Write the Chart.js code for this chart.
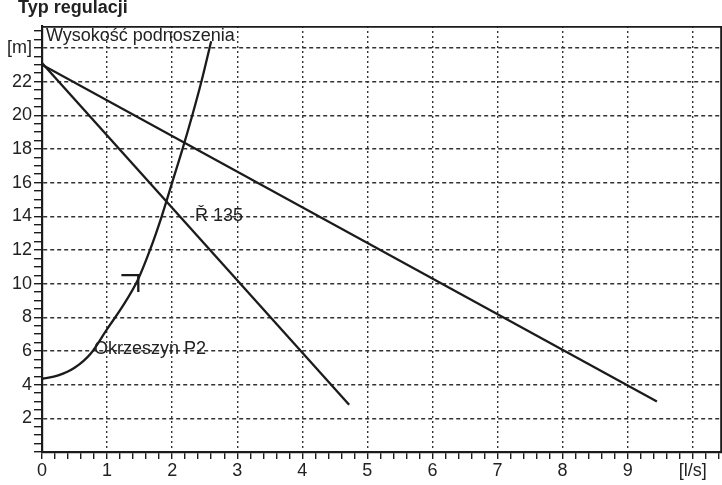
<!DOCTYPE html>
<html>
<head>
<meta charset="utf-8">
<script src="https://cdn.jsdelivr.net/npm/chart.js@4.4.1/dist/chart.umd.min.js"></script>
<style>
    html, body { margin: 0; padding: 0; background: #fff; }
    #wrap { width: 722px; height: 485px; }
</style>
</head>
<body>
<div id="wrap"><canvas id="chart"></canvas></div>
<script>
"use strict";

// Pump curves (straight lines) and system curve
const longLineFlow = [0, 9.45];
const longLineHead = [23.0, 3.0];
const shortLineFlow = [0, 4.72];
const shortLineHead = [23.1, 2.8];
const systemFlow = [0, 0.25, 0.5, 0.75, 1.0, 1.23, 1.47, 1.66, 1.84, 2.0, 2.16, 2.31, 2.45, 2.6];
const systemHead = [4.35, 4.55, 5.0, 5.85, 7.3, 8.6, 10.2, 12, 14, 16, 18, 20, 22, 24.4];
// operating point mark
const markFlow = [1.22, 1.48, 1.48];
const markHead = [10.5, 10.5, 9.5];

// Tick labels
const xTickValues = [0, 1, 2, 3, 4, 5, 6, 7, 8, 9, 10];
const xTickLabels = ['0', '1', '2', '3', '4', '5', '6', '7', '8', '9', '[l/s]'];
const yTickValues = [2, 4, 6, 8, 10, 12, 14, 16, 18, 20, 22, 24];
const yTickLabels = ['2', '4', '6', '8', '10', '12', '14', '16', '18', '20', '22', '[m]'];

const FONT = '"Liberation Sans", Arial, sans-serif';
const INK = '#1b1b1b';

const toPoints = (xs, ys) => xs.map((x, i) => ({ x: x, y: ys[i] }));
const findTick = (values, v) => values.findIndex(t => Math.abs(t - v) < 1e-6);

/**
 * Frame, title and curve names
 */
const decorations = {
    id: 'decorations',
    afterDatasetsDraw(chart) {
        const { ctx, chartArea: area, scales: { x, y } } = chart;
        ctx.save();

        // frame top + right
        ctx.strokeStyle = INK;
        ctx.lineWidth = 1.8;
        ctx.beginPath();
        ctx.moveTo(area.left, area.top + 0.9);
        ctx.lineTo(area.right - 0.9, area.top + 0.9);
        ctx.lineTo(area.right - 0.9, area.bottom);
        ctx.stroke();

        ctx.fillStyle = '#222';
        ctx.font = 'bold 18px ' + FONT;
        ctx.textBaseline = 'alphabetic';
        ctx.fillText('Typ regulacji', 18, 13);

        ctx.font = '18px ' + FONT;
        ctx.textBaseline = 'middle';
        ctx.fillText('Wysokość podnoszenia', x.getPixelForValue(0.06), y.getPixelForValue(24.7));
        ctx.fillText('Ř 135', x.getPixelForValue(2.35), y.getPixelForValue(14.0));
        ctx.fillText('Okrzeszyn P2', x.getPixelForValue(0.8), y.getPixelForValue(6.1));

        ctx.restore();
    }
};

const lineStyle = {
    showLine: true,
    borderColor: INK,
    borderWidth: 2.3,
    pointRadius: 0,
    fill: false
};

new Chart(document.getElementById('chart'), {
    type: 'scatter',
    data: {
        datasets: [
            Object.assign({ label: 'R 135 a', data: toPoints(longLineFlow, longLineHead) }, lineStyle),
            Object.assign({ label: 'R 135 b', data: toPoints(shortLineFlow, shortLineHead) }, lineStyle),
            Object.assign({
                label: 'Okrzeszyn P2',
                data: toPoints(systemFlow, systemHead),
                cubicInterpolationMode: 'monotone'
            }, lineStyle),
            Object.assign({ label: 'mark', data: toPoints(markFlow, markHead) }, lineStyle)
        ]
    },
    options: {
        responsive: true,
        maintainAspectRatio: false,
        animation: false,
        layout: { padding: { top: 26, right: 0, left: 0, bottom: 0 } },
        plugins: {
            legend: { display: false },
            tooltip: { enabled: false }
        },
        scales: {
            x: {
                type: 'linear',
                min: 0,
                max: 10.45,
                afterFit: (scale) => { scale.height = 33; },
                ticks: {
                    stepSize: 0.2,
                    autoSkip: false,
                    includeBounds: false,
                    maxRotation: 0,
                    padding: 1,
                    color: '#222',
                    font: { size: 18, family: FONT },
                    callback: (value) => {
                        const i = findTick(xTickValues, value);
                        return i >= 0 ? xTickLabels[i] : '';
                    }
                },
                grid: {
                    color: (ctx) => {
                        const v = ctx.tick ? ctx.tick.value : 0;
                        return v > 0 && findTick(xTickValues, v) >= 0 ? '#333' : 'transparent';
                    },
                    lineWidth: 1.4,
                    tickColor: INK,
                    tickWidth: 1.4,
                    tickLength: 7,
                    tickBorderDash: []
                },
                border: { display: true, color: INK, width: 2.2, dash: [2, 3] }
            },
            y: {
                type: 'linear',
                min: 0,
                max: 25.3,
                afterFit: (scale) => { scale.width = 42; },
                ticks: {
                    stepSize: 0.5,
                    autoSkip: false,
                    includeBounds: false,
                    padding: 2,
                    color: '#222',
                    font: { size: 18, family: FONT },
                    callback: (value) => {
                        const i = findTick(yTickValues, value);
                        return i >= 0 ? yTickLabels[i] : '';
                    }
                },
                grid: {
                    color: (ctx) => {
                        const v = ctx.tick ? ctx.tick.value : 0;
                        return findTick(yTickValues, v) >= 0 ? '#333' : 'transparent';
                    },
                    lineWidth: 1.4,
                    tickColor: INK,
                    tickWidth: 1.4,
                    tickLength: 8,
                    tickBorderDash: []
                },
                border: { display: true, color: INK, width: 2.2, dash: [4, 3] }
            }
        }
    },
    plugins: [decorations]
});
</script>
</body>
</html>
